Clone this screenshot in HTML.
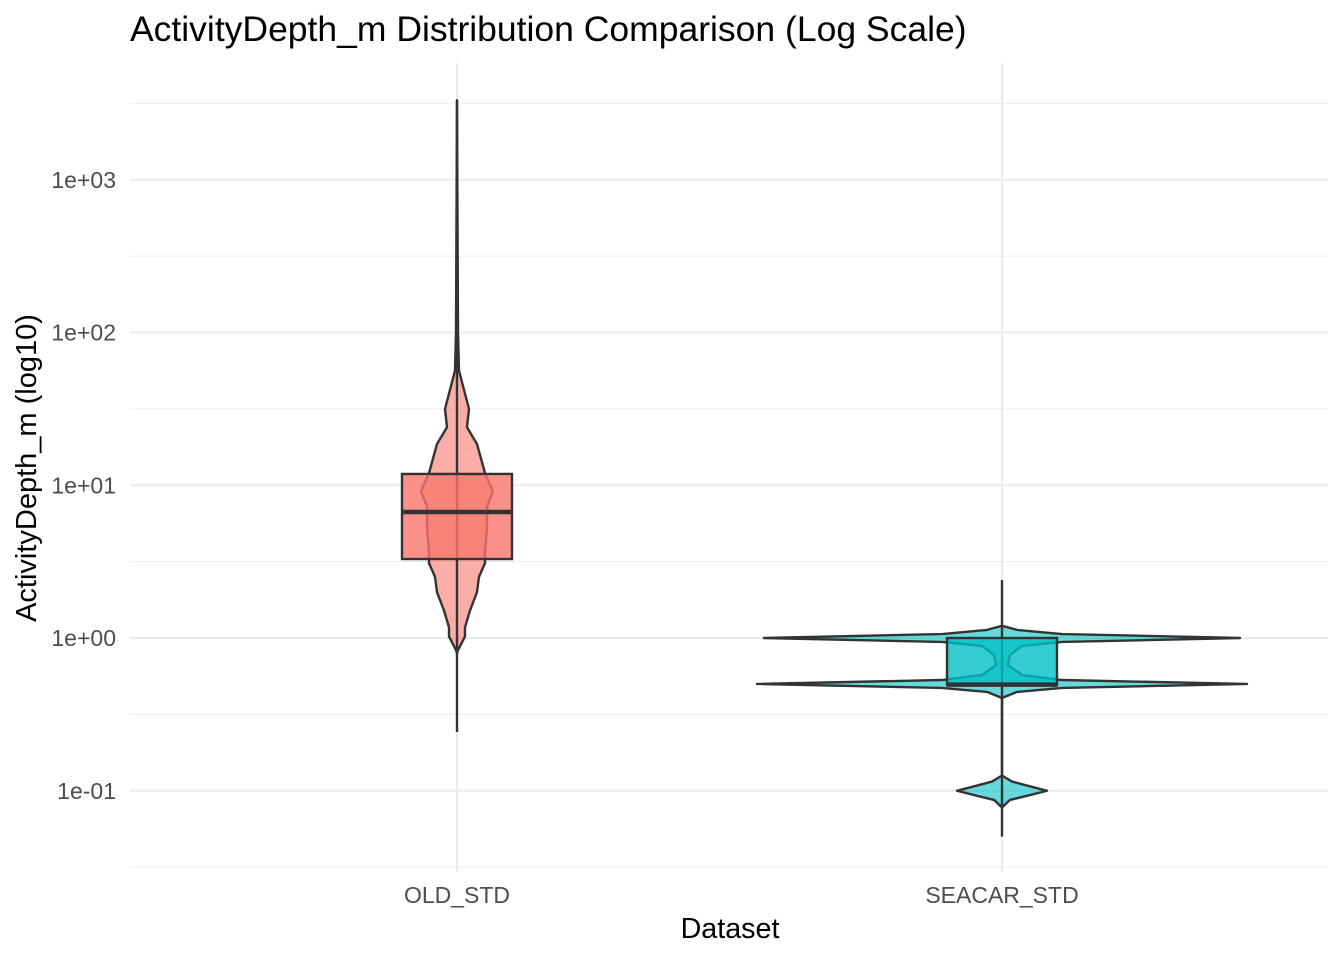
<!DOCTYPE html>
<html><head><meta charset="utf-8"><style>
body{margin:0;background:#fff}
svg{display:block;font-family:"Liberation Sans",sans-serif}
</style></head><body>
<svg id="chart" width="1344" height="960" viewBox="0 0 1344 960">
<text x="130" y="41" font-size="35.5" fill="#000">ActivityDepth_m Distribution Comparison (Log Scale)</text>
<g id="grid"></g><g id="marks"></g><g id="axes"></g>
<text x="730" y="938" font-size="28.7" text-anchor="middle" fill="#000">Dataset</text>
<text transform="translate(36,468) rotate(-90)" font-size="29" text-anchor="middle" fill="#000">ActivityDepth_m (log10)</text>
</svg>
<script>
const categories=["OLD_STD","SEACAR_STD"];
const colors=["#F8766D","#00BFC4"];
const tickVals=[-1,0,1,2,3];
const tickLabels=["1e-01","1e+00","1e+01","1e+02","1e+03"];
// box stats (log10 values)
const q1=[0.517,-0.308];
const med=[0.825,-0.305];
const q3=[1.074,0.0];
const whLo=[-0.615,-1.30];
const whHi=[3.52,0.38];
// violin density profiles: log10 values and relative densities
const densLogOld=[3.52,2.0,1.75,1.5,1.38,1.27,1.08,0.96,0.86,0.72,0.56,0.49,0.40,0.30,0.18,0.07,0.01,-0.08,-0.1];
const densOld=[0,1,2,12,10,20,28,36,30,30,28,28,22,20,13,8,8,1,0];
const densLogSea=[0.08,0.053,0.026,0,-0.026,-0.052,-0.111,-0.177,-0.242,-0.275,-0.301,-0.327,-0.353,-0.393,-0.90,-0.94,-0.966,-1.0,-1.033,-1.06,-1.11];
const densSea=[0,15,60,238,60,20,8,6,20,60,245,60,15,0,0,10,25,45,25,8,0];
const SVGNS="http://www.w3.org/2000/svg";
const L=130,R=1328,T=63,B=872;
const y=v=>638-v*152.75;
const xc=i=>457+i*545;
function mk(tag,attrs,parent){const e=document.createElementNS(SVGNS,tag);for(const k in attrs)e.setAttribute(k,attrs[k]);parent.appendChild(e);return e;}
const grid=document.getElementById('grid'),marks=document.getElementById('marks'),axes=document.getElementById('axes');
for(let v=-1.5;v<=3.5;v+=0.5){
 const major=Math.abs(v-Math.round(v))<1e-9;
 const g=mk('line',{x1:L,x2:R,y1:y(v),y2:y(v),stroke:'#ebebeb','stroke-width':major?2:1.1},grid);
 
 
}
categories.forEach((c,i)=>{
 const g=mk('line',{x1:xc(i),x2:xc(i),y1:T,y2:B,stroke:'#ebebeb','stroke-width':2},grid);
 
 
 const t=mk('text',{x:xc(i),y:903,'font-size':23,'text-anchor':'middle',fill:'#4d4d4d'},axes);
 t.textContent=c;
 
 
});
tickVals.forEach((v,i)=>{
 const t=mk('text',{x:116,y:y(v)+8,'font-size':23,'text-anchor':'end',fill:'#4d4d4d'},axes);
 t.textContent=tickLabels[i];
 
 
});
const profiles=[[densLogOld,densOld],[densLogSea,densSea]];
profiles.forEach((p,i)=>{
 const [lv,dv]=p,cx=xc(i);
 let pts=[];
 for(let k=0;k<lv.length;k++)pts.push((cx+dv[k])+','+y(lv[k]));
 for(let k=lv.length-1;k>=0;k--)pts.push((cx-dv[k])+','+y(lv[k]));
 const v=mk('polygon',{points:pts.join(' '),fill:colors[i],'fill-opacity':0.6,stroke:'#333','stroke-width':2.4,'stroke-linejoin':'round'},marks);
 
 
 const w=mk('line',{x1:cx,x2:cx,y1:y(whHi[i]),y2:y(whLo[i]),stroke:'#333','stroke-width':2.4},marks);
 
 
 const b=mk('rect',{x:cx-55,y:y(q3[i]),width:110,height:y(q1[i])-y(q3[i]),fill:colors[i],'fill-opacity':0.8,stroke:'#333','stroke-width':2.4},marks);
 
 
 const m=mk('line',{x1:cx-55,x2:cx+55,y1:y(med[i]),y2:y(med[i]),stroke:'#333','stroke-width':4.5},marks);
 
 
});
</script>
</body></html>
